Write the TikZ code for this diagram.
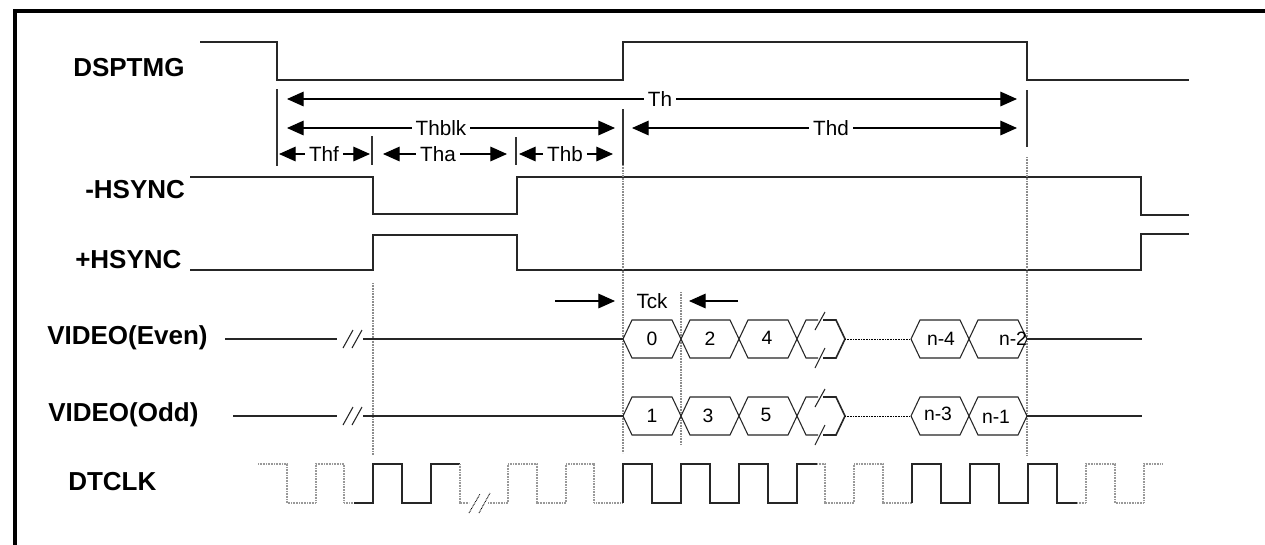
\documentclass[tikz,border=0pt]{standalone}
\usepackage{fontspec}
\setmainfont{Liberation Sans}
\usetikzlibrary{arrows.meta}
\tikzset{
 sig/.style={line width=1.1pt, black!85},
 thinsig/.style={line width=0.8pt, black!85},
 tickln/.style={line width=0.8pt, black!80},
 guide/.style={line width=0.8pt, gray!90, dash pattern=on 0.6pt off 0.6pt},
 clkdot/.style={line width=0.9pt, gray!80, dash pattern=on 0.6pt off 0.6pt},
 dim/.style={line width=0.8pt, {Triangle[length=12.5pt,width=11pt]}-{Triangle[length=12.5pt,width=11pt]}},
 onearrow/.style={line width=0.8pt, -{Triangle[length=12.5pt,width=11pt]}},
 siglabel/.style={font=\bfseries\fontsize{19.5}{22}\selectfont, anchor=west, inner sep=0pt},
 dimlabel/.style={font=\fontsize{15.5}{18}\selectfont, fill=white, inner xsep=3pt, inner ysep=1pt},
 hexlabel/.style={font=\fontsize{14.5}{16}\selectfont, inner sep=0pt},
 hexbox/.style={line width=0.8pt, black!85},
}
\newcommand\hexcell[3]{%
 \draw[hexbox] (#1,#3) -- (#1+9,#3-19) -- (#2-9,#3-19) -- (#2,#3) -- (#2-9,#3+19) -- (#1+9,#3+19) -- cycle;}
\newcommand\brkcell[1]{%
 \draw[hexbox] (818,#1-19) -- (806,#1-19) -- (797,#1) -- (806,#1+19) -- (818,#1+19);
 \draw[hexbox, line width=1.2pt] (823,#1-19) -- (836,#1-19) -- (845,#1) -- (836,#1+19) -- (823,#1+19);
 \draw[thinsig] (815,#1-9) -- (825,#1-27);
 \draw[thinsig] (815,#1+29) -- (825,#1+9);
 \draw[line width=0.7pt, dash pattern=on 0.6pt off 0.6pt] (845,#1) -- (911,#1);}
\begin{document}
\begin{tikzpicture}[x=0.75pt,y=-0.75pt]
\useasboundingbox (0,0) rectangle (1265,544);
\fill[white] (0,0) rectangle (1265,544);
% frame
\draw[line width=2.5pt] (15,548) -- (15,11) -- (1270,11);

% labels
\node[siglabel] (lDSP) at (73,68) {DSPTMG};
\node[siglabel] (lHSn) at (85,190) {-HSYNC};
\node[siglabel] (lHSp) at (75,260) {+HSYNC};
\node[siglabel] (lVE) at (47,338) {VIDEO(Even)};
\node[siglabel] (lVO) at (48,415) {VIDEO(Odd)};
\node[siglabel] (lCLK) at (68,482) {DTCLK};

% DSPTMG
\draw[sig] (200,42) -- (277,42) -- (277,80) -- (623,80) -- (623,42) -- (1027,42) -- (1027,80) -- (1189,80);
% -HSYNC
\draw[sig] (190,177) -- (373,177) -- (373,214) -- (517,214) -- (517,177) -- (1141,177) -- (1141,215) -- (1189,215);
% +HSYNC
\draw[sig] (190,270) -- (373,270) -- (373,235) -- (517,235) -- (517,270) -- (1141,270) -- (1141,234) -- (1189,234);

% ticks
\draw[tickln] (277,89) -- (277,166);
\draw[tickln] (1027,90) -- (1027,147);
\draw[tickln] (623,109) -- (623,165);
\draw[tickln] (372,136) -- (372,165);
\draw[tickln] (516,137) -- (516,165);

% guides
\draw[guide] (373,283) -- (373,455);
\draw[guide] (623,165) -- (623,453);
\draw[guide] (681,292) -- (681,445);
\draw[guide] (1027,157) -- (1027,455);

% dimension arrows
\coordinate (thA) at (287,99); \coordinate (thB) at (1017,99);
\draw[dim] (thA) -- (thB);
\node[dimlabel] (Th) at (660,99) {Th};
\coordinate (tbA) at (287,128); \coordinate (tbB) at (615,128);
\draw[dim] (tbA) -- (tbB);
\node[dimlabel] (Thblk) at (441,128) {Thblk};
\coordinate (tdA) at (632,128); \coordinate (tdB) at (1017,128);
\draw[dim] (tdA) -- (tdB);
\node[dimlabel] (Thd) at (831,128) {Thd};
\coordinate (tfA) at (279,154); \coordinate (tfB) at (370,154);
\draw[dim] (tfA) -- (tfB);
\node[dimlabel] (Thf) at (324,154) {Thf};
\coordinate (taA) at (383,154); \coordinate (taB) at (507,154);
\draw[dim] (taA) -- (taB);
\node[dimlabel] (Tha) at (438,154) {Tha};
\coordinate (tbbA) at (519,154); \coordinate (tbbB) at (613,154);
\draw[dim] (tbbA) -- (tbbB);
\node[dimlabel] (Thb) at (565,154) {Thb};

% Tck
\node[dimlabel] (Tck) at (652,301) {Tck};
\coordinate (tkA) at (555,301); \coordinate (tkB) at (615,301);
\coordinate (tkC) at (738,301); \coordinate (tkD) at (689,301);
\draw[onearrow] (tkA) -- (tkB);
\draw[onearrow] (tkC) -- (tkD);

% VIDEO(Even)
\draw[sig] (225,339) -- (337,339);
\draw[thinsig] (343,348) -- (353,330);
\draw[thinsig] (352,348) -- (362,330);
\draw[thinsig] (363,339) -- (623,339);
\hexcell{623}{681}{339} \node[hexlabel] (e0) at (652,339) {0};
\hexcell{681}{739}{339} \node[hexlabel] (e2) at (710,339) {2};
\hexcell{739}{797}{339} \node[hexlabel] (e4) at (767,338) {4};
\brkcell{339}
\hexcell{911}{969}{339} \node[hexlabel] (en4) at (941,339) {n-4};
\hexcell{969}{1027}{339} \node[hexlabel] (en2) at (1013,339) {n-2};
\draw[sig] (1027,339) -- (1142,339);

% VIDEO(Odd)
\draw[sig] (233,416) -- (337,416);
\draw[thinsig] (343,425) -- (353,407);
\draw[thinsig] (352,425) -- (362,407);
\draw[thinsig] (363,416) -- (623,416);
\hexcell{623}{681}{416} \node[hexlabel] (o1) at (652,416) {1};
\hexcell{681}{739}{416} \node[hexlabel] (o3) at (708,416) {3};
\hexcell{739}{797}{416} \node[hexlabel] (o5) at (766,415) {5};
\brkcell{416}
\hexcell{911}{969}{416} \node[hexlabel] (on3) at (938,414) {n-3};
\hexcell{969}{1027}{416} \node[hexlabel] (on1) at (996,417) {n-1};
\draw[sig] (1027,416) -- (1142,416);

% DTCLK
\draw[clkdot] (258,464) -- (287,464) -- (287,503) -- (316,503) -- (316,464) -- (344,464) -- (344,503) -- (354,503);
\draw[sig] (354,503) -- (373,503) -- (373,464) -- (402,464) -- (402,503) -- (431,503) -- (431,464) -- (460,464);
\draw[clkdot] (460,464) -- (460,503) -- (469,503);
\draw[line width=0.7pt, dash pattern=on 0.6pt off 0.6pt] (469,513) -- (480,494);
\draw[line width=0.7pt, dash pattern=on 0.6pt off 0.6pt] (479,513) -- (490,493);
\draw[clkdot] (488,503) -- (508,503) -- (508,464) -- (537,464) -- (537,503) -- (566,503) -- (566,464) -- (594,464) -- (594,503) -- (623,503);
\draw[sig] (623,503) -- (623,464) -- (652,464) -- (652,503) -- (681,503) -- (681,464) -- (710,464) -- (710,503) -- (739,503) -- (739,464) -- (768,464) -- (768,503) -- (797,503) -- (797,464) -- (817,464);
\draw[clkdot] (817,464) -- (825,464) -- (825,503) -- (854,503) -- (854,464) -- (883,464) -- (883,503) -- (912,503);
\draw[sig] (912,503) -- (912,464) -- (941,464) -- (941,503) -- (970,503) -- (970,464) -- (999,464) -- (999,503) -- (1028,503) -- (1028,464) -- (1057,464) -- (1057,503) -- (1077,503);
\draw[clkdot] (1077,503) -- (1086,503) -- (1086,464) -- (1115,464) -- (1115,503) -- (1144,503) -- (1144,464) -- (1163,464);
\end{tikzpicture}
\end{document}
